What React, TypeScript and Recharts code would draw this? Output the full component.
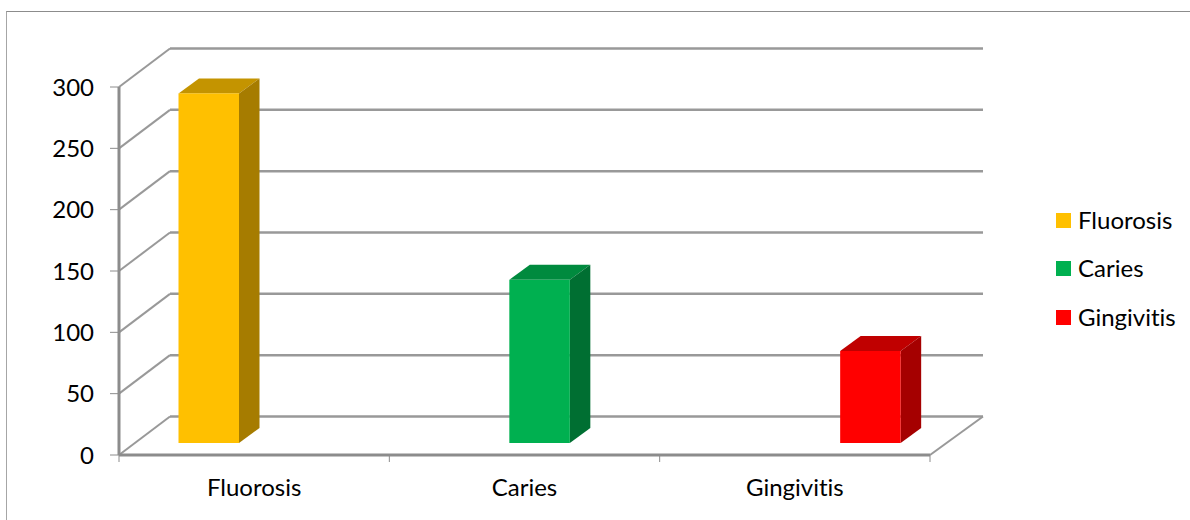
import { BarChart, Bar, XAxis, YAxis, CartesianGrid, Legend } from 'recharts';

const categories = ['Fluorosis', 'Caries', 'Gingivitis'];
const fluorosisValues = [285, null, null];
const cariesValues = [null, 133, null];
const gingivitisValues = [null, null, 75];
const yTicks = [0, 50, 100, 150, 200, 250, 300];

const data = categories.map((name, i) => ({
  name,
  Fluorosis: fluorosisValues[i],
  Caries: cariesValues[i],
  Gingivitis: gingivitisValues[i],
}));

const FONT = 'Lato, sans-serif';
const FONT_SIZE = 24;
const AXIS_COLOR = '#8c8c8c';
const GRID_COLOR = '#999999';

// wall depth of the fake 3D box
const WALL_DX = 51;
const WALL_DY = -38.5;
const WALL_RIGHT_EXTRA = 53;

// bars sit part way into the floor
const BAR_SHIFT_X = 15.5;
const BAR_SHIFT_Y = -12;
const BAR_DX = 20.5;
const BAR_DY = -15;

const seriesStyles = [
  { key: 'Fluorosis', front: '#FFC000', top: '#C49400', side: '#A67C00' },
  { key: 'Caries', front: '#00B050', top: '#008A3E', side: '#006F32' },
  { key: 'Gingivitis', front: '#FF0000', top: '#C00000', side: '#A50000' },
];

function Box3D(props: any) {
  const { x, y, width, height, front, top, side } = props;
  if (!height || height <= 0) return null;
  const l = x + BAR_SHIFT_X;
  const r = l + width;
  const t = y + BAR_SHIFT_Y;
  const b = t + height;
  return (
    <g>
      <polygon
        points={`${l},${t} ${r},${t} ${r + BAR_DX},${t + BAR_DY} ${l + BAR_DX},${t + BAR_DY}`}
        fill={top}
      />
      <polygon
        points={`${r},${t} ${r + BAR_DX},${t + BAR_DY} ${r + BAR_DX},${b + BAR_DY} ${r},${b}`}
        fill={side}
      />
      <rect x={l} y={t} width={width} height={height} fill={front} />
    </g>
  );
}

function WallLine(props: any) {
  const { x1, x2, y1 } = props;
  return (
    <g>
      <line
        x1={x1}
        y1={y1}
        x2={x1 + WALL_DX}
        y2={y1 + WALL_DY}
        stroke={GRID_COLOR}
        strokeWidth={2}
      />
      <line
        x1={x1 + WALL_DX}
        y1={y1 + WALL_DY}
        x2={x2 + WALL_RIGHT_EXTRA}
        y2={y1 + WALL_DY}
        stroke={GRID_COLOR}
        strokeWidth={2.5}
      />
      {y1 === props.bottom && (
        <line
          x1={x2}
          y1={y1}
          x2={x2 + WALL_RIGHT_EXTRA}
          y2={y1 + WALL_DY}
          stroke={GRID_COLOR}
          strokeWidth={2}
        />
      )}
    </g>
  );
}

function CategoryTick(props: any) {
  const { x, y, payload, index } = props;
  const half = payload.offset;
  return (
    <g>
      <line x1={x - half} y1={y - 8} x2={x - half} y2={y - 1} stroke={AXIS_COLOR} />
      {index === categories.length - 1 && (
        <line x1={x + half} y1={y - 8} x2={x + half} y2={y - 1} stroke={AXIS_COLOR} />
      )}
      <text
        x={x}
        y={y + 33}
        textAnchor="middle"
        fontSize={FONT_SIZE}
        fontFamily={FONT}
        fill="#000"
        style={{ fontVariantLigatures: 'none' }}
      >
        {payload.value}
      </text>
    </g>
  );
}

function ChartLegend() {
  return (
    <div style={{ fontFamily: FONT, fontSize: FONT_SIZE, color: '#000', fontVariantLigatures: 'none' }}>
      {seriesStyles.map((s) => (
        <div key={s.key} style={{ display: 'flex', alignItems: 'center', height: 48.5 }}>
          <span style={{ width: 15, height: 15, background: s.front, marginRight: 7 }} />
          <span style={{ position: 'relative', top: -1 }}>{s.key}</span>
        </div>
      ))}
    </div>
  );
}

export default function App() {
  return (
    <div
      style={{
        position: 'absolute',
        left: 0,
        top: 0,
        width: 1190,
        height: 520,
        background: '#fff',
        overflow: 'hidden',
      }}
    >
      <div
        style={{
          position: 'absolute',
          left: 6,
          top: 11,
          right: 0,
          bottom: 0,
          borderLeft: '1px solid #a6a6a6',
          borderTop: '1px solid #8c8c8c',
        }}
      />
      <BarChart
        width={1190}
        height={520}
        data={data}
        barSize={60.5}
        barGap={0}
        margin={{ top: 87, right: 260, bottom: 0, left: 0 }}
      >
        <CartesianGrid
          vertical={false}
          horizontal={(p: any) => <WallLine key={p.key} {...p} bottom={455} />}
        />
        <XAxis
          dataKey="name"
          height={65}
          interval={0}
          tickLine={false}
          axisLine={{ stroke: AXIS_COLOR, strokeWidth: 3 }}
          tick={<CategoryTick />}
        />
        <YAxis
          width={119}
          domain={[0, 300]}
          ticks={yTicks}
          tickSize={9}
          tickMargin={16}
          tickLine={{ stroke: AXIS_COLOR }}
          axisLine={{ stroke: AXIS_COLOR, strokeWidth: 3 }}
          tick={{ fontSize: FONT_SIZE, fontFamily: FONT, fill: '#000' }}
        />
        <Legend
          layout="vertical"
          align="center"
          verticalAlign="middle"
          wrapperStyle={{ left: 1056, top: 196, width: 134 }}
          content={<ChartLegend />}
        />
        {seriesStyles.map((s) => (
          <Bar
            key={s.key}
            dataKey={s.key}
            isAnimationActive={false}
            shape={<Box3D front={s.front} top={s.top} side={s.side} />}
          />
        ))}
      </BarChart>
    </div>
  );
}
